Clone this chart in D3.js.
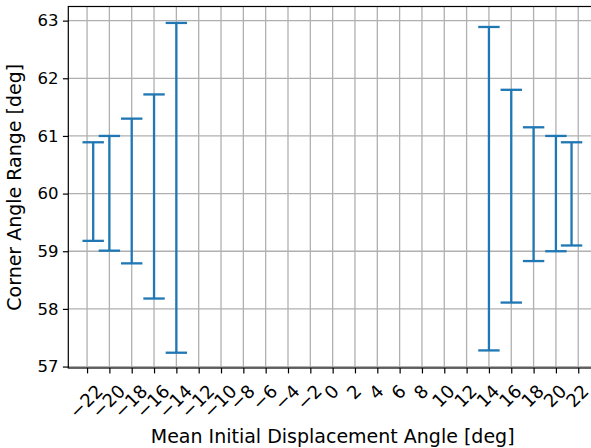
<!DOCTYPE html>
<html>
<head>
<meta charset="utf-8">
<script src="https://cdn.jsdelivr.net/npm/d3@7"></script>
<style>
  body { margin: 0; background: #fff; }
  svg { display: block; font-family: "DejaVu Sans", sans-serif; }
</style>
</head>
<body>
<svg id="chart" width="591" height="448"></svg>
<script>
//DATA
const angles = [-21.45, -20, -18, -16, -14, 14, 16, 18, 20, 21.4];
const lowerVals = [59.18, 59.01, 58.79, 58.18, 57.24, 57.28, 58.11, 58.83, 59.0, 59.1];
const upperVals = [60.89, 61.0, 61.3, 61.72, 62.96, 62.89, 61.8, 61.15, 61.0, 60.89];
const xTicks = [-22, -20, -18, -16, -14, -12, -10, -8, -6, -4, -2, 0, 2, 4, 6, 8, 10, 12, 14, 16, 18, 20, 22];
const yTicks = [57, 58, 59, 60, 61, 62, 63];

//LAYOUT
const margin = {top: 6.5, right: -6, bottom: 80, left: 68.3};
const width = 591 - margin.left - margin.right;
const height = 448 - margin.top - margin.bottom;
const blue = "#1f77b4";
const xTickFont = 18;
const yTickFont = 16.5;
const labelFont = 19;

const svg = d3.select("#chart");
const g = svg.append("g").attr("transform", "translate(" + margin.left + "," + margin.top + ")");

const x = d3.scaleLinear().domain([-23.68, 23.68]).range([0, width]);
const y = d3.scaleLinear().domain([56.975, 63.245]).range([height, 0]);
const fmt = d3.format("d");

//GRID
g.append("g").selectAll("line").data(xTicks).enter().append("line")
  .attr("x1", d => x(d)).attr("x2", d => x(d))
  .attr("y1", 0).attr("y2", height)
  .attr("stroke", "#b0b0b0").attr("stroke-width", 1.3);
g.append("g").selectAll("line").data(yTicks).enter().append("line")
  .attr("x1", 0).attr("x2", width)
  .attr("y1", d => y(d)).attr("y2", d => y(d))
  .attr("stroke", "#b0b0b0").attr("stroke-width", 1.3);

//ERROR BARS
const capHalf = 10.7;
const bars = g.append("g").selectAll("g").data(angles).enter().append("g");
bars.append("line")
  .attr("x1", d => x(d)).attr("x2", d => x(d))
  .attr("y1", (d, i) => y(lowerVals[i])).attr("y2", (d, i) => y(upperVals[i]))
  .attr("stroke", blue).attr("stroke-width", 2.3);
bars.append("line")
  .attr("x1", d => x(d) - capHalf).attr("x2", d => x(d) + capHalf)
  .attr("y1", (d, i) => y(lowerVals[i])).attr("y2", (d, i) => y(lowerVals[i]))
  .attr("stroke", blue).attr("stroke-width", 2.3);
bars.append("line")
  .attr("x1", d => x(d) - capHalf).attr("x2", d => x(d) + capHalf)
  .attr("y1", (d, i) => y(upperVals[i])).attr("y2", (d, i) => y(upperVals[i]))
  .attr("stroke", blue).attr("stroke-width", 2.3);

//AXES
const yAxis = g.append("g")
  .call(d3.axisLeft(y).tickValues(yTicks).tickFormat(fmt).tickSize(5.4).tickPadding(4.5));
const xAxis = g.append("g").attr("transform", "translate(0," + height + ")")
  .call(d3.axisBottom(x).tickValues(xTicks).tickFormat(fmt).tickSize(5.4).tickPadding(5));
[xAxis, yAxis].forEach(a => {
  a.select(".domain").remove();
  a.selectAll("line").attr("stroke", "#000").attr("stroke-width", 1.2);
  a.selectAll("text").attr("fill", "#000").style("font-family", "DejaVu Sans");
});
yAxis.selectAll("text").style("font-size", yTickFont + "px");
xAxis.selectAll("text").style("font-size", xTickFont + "px");

//ROTATED X LABELS (bbox centred under tick, like matplotlib)
xAxis.selectAll(".tick text").each(function() {
  const t = d3.select(this);
  const L = this.getComputedTextLength();
  const h = xTickFont * 0.9;
  const half = (L + h) * Math.SQRT1_2 / 2;
  t.attr("y", null).attr("dy", null)
    .attr("text-anchor", "middle")
    .attr("dominant-baseline", "central")
    .attr("transform", "translate(-1.6," + (14 + half) + ") rotate(-45)");
});

//SPINES
g.append("rect")
  .attr("x", 0).attr("y", 0).attr("width", width).attr("height", height)
  .attr("fill", "none").attr("stroke", "#000").attr("stroke-width", 1.2);

//AXIS LABELS
svg.append("text")
  .attr("x", margin.left + width / 2).attr("y", 443)
  .attr("text-anchor", "middle")
  .style("font-size", labelFont + "px")
  .text("Mean Initial Displacement Angle [deg]");
svg.append("text")
  .attr("transform", "translate(21," + (margin.top + height / 2) + ") rotate(-90)")
  .attr("text-anchor", "middle")
  .style("font-size", labelFont + "px")
  .text("Corner Angle Range [deg]");
</script>
</body>
</html>
